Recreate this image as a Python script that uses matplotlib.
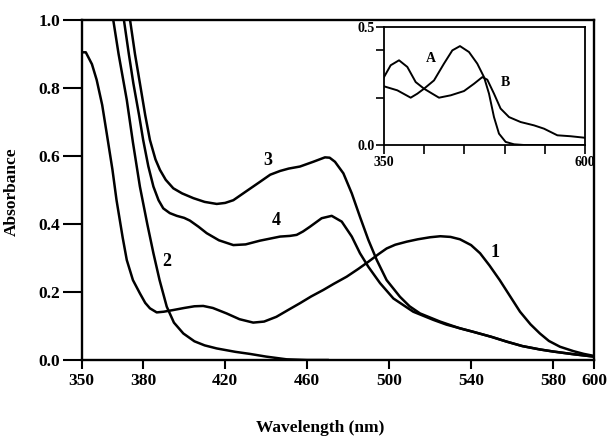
import matplotlib
matplotlib.use("Agg")
import matplotlib.pyplot as plt

# ---------------- data (main panel) ----------------
wl_1 = [350, 352, 355, 357.3, 360, 362.2, 365, 367, 370, 372, 375, 378.4, 381, 383.3,
        386.6, 390, 394.7, 400, 405, 409.3, 414, 420.7, 427, 433.7, 439, 445, 451,
        456.5, 462, 467.9, 473, 479.3, 485, 489.9, 495, 498.8, 503, 508.6, 514, 520,
        525, 530, 534.6, 540, 544.4, 549, 554, 559, 563.9, 569, 573.6, 578, 583.4,
        590, 595, 600]
abs_1 = [0.905, 0.905, 0.87, 0.824, 0.75, 0.667, 0.56, 0.47, 0.36, 0.294, 0.235, 0.196,
         0.168, 0.152, 0.140, 0.142, 0.147, 0.153, 0.158, 0.159, 0.153, 0.137, 0.12,
         0.110, 0.113, 0.127, 0.148, 0.167, 0.187, 0.206, 0.224, 0.245, 0.268, 0.289,
         0.312, 0.328, 0.339, 0.348, 0.355, 0.361, 0.364, 0.362, 0.355, 0.338, 0.314,
         0.278, 0.235, 0.188, 0.142, 0.105, 0.078, 0.056, 0.039, 0.026, 0.018, 0.012]

wl_2 = [365.4, 368, 372, 375, 378.4, 382, 385, 388, 391.5, 395, 399.6, 405, 410,
        415.9, 425, 432, 440, 450, 460, 470]
abs_2 = [1.0, 0.90, 0.765, 0.64, 0.51, 0.40, 0.314, 0.235, 0.157, 0.11, 0.078, 0.055,
         0.043, 0.034, 0.024, 0.018, 0.010, 0.002, 0.0, 0.0]

wl_3 = [373.6, 376, 378.4, 381, 383.3, 386, 388.2, 391, 394.7, 399, 404.5, 410, 415.9,
        420, 424, 430, 437, 442, 446.8, 451, 456.5, 463, 468.7, 471, 473.6, 477.7,
        481.8, 485.8, 489.9, 494, 498.8, 505.3, 510, 515.1, 524.9, 534.6, 541, 550,
        557.4, 565, 573.6, 580, 590, 600]
abs_3 = [1.0, 0.90, 0.814, 0.72, 0.647, 0.59, 0.559, 0.530, 0.505, 0.49, 0.476, 0.465,
         0.459, 0.462, 0.47, 0.495, 0.524, 0.545, 0.556, 0.563, 0.569, 0.583, 0.596,
         0.595, 0.583, 0.549, 0.490, 0.421, 0.353, 0.294, 0.235, 0.186, 0.158, 0.137,
         0.113, 0.093, 0.083, 0.068, 0.054, 0.041, 0.031, 0.025, 0.017, 0.010]

wl_4 = [370.6, 373, 375.2, 378, 380, 382.5, 385, 387.5, 389.8, 393, 396.4, 400, 402.8,
        407, 411, 417, 424, 430, 437, 446.8, 451.6, 454.9, 458, 461.4, 467.1, 472,
        476.9, 481.8, 485.8, 489.9, 495.6, 502.1, 511.8, 521.6, 528, 541, 550, 557.4,
        565, 573.6, 580, 590, 600]
abs_4 = [1.0, 0.90, 0.814, 0.72, 0.647, 0.57, 0.51, 0.47, 0.446, 0.432, 0.424, 0.418,
         0.41, 0.392, 0.373, 0.352, 0.338, 0.340, 0.351, 0.363, 0.365, 0.368, 0.378,
         0.392, 0.417, 0.424, 0.407, 0.363, 0.314, 0.274, 0.226, 0.181, 0.142, 0.118,
         0.104, 0.083, 0.068, 0.054, 0.041, 0.031, 0.025, 0.017, 0.010]

curve_labels = ["1", "2", "3", "4"]
label_x = [551.7, 391.5, 441, 445]
label_y = [0.315, 0.289, 0.588, 0.41]

x_ticks = [350, 380, 420, 460, 500, 540, 580, 600]
y_ticks = [0.0, 0.2, 0.4, 0.6, 0.8, 1.0]

# ---------------- data (inset) ----------------
wl_A = [350, 358.3, 368.7, 379, 389.4, 399.8, 412.2, 424.6, 435, 444.5, 455.7, 466,
        474.4, 480.6, 486.8, 493, 501.3, 511.7, 524, 600]
abs_A = [0.287, 0.337, 0.358, 0.330, 0.266, 0.238, 0.273, 0.344, 0.400, 0.418, 0.393,
         0.344, 0.287, 0.217, 0.118, 0.048, 0.013, 0.003, 0.0, 0.0]

wl_B = [350, 366.6, 383.2, 391.5, 399.8, 410, 418.4, 433, 449.5, 462, 472.3, 478.5,
        486.8, 495, 505.5, 520, 536.6, 549, 565.6, 582.2, 598.8, 600]
abs_B = [0.248, 0.231, 0.200, 0.217, 0.238, 0.217, 0.200, 0.210, 0.228, 0.259, 0.287,
         0.276, 0.217, 0.154, 0.118, 0.097, 0.083, 0.069, 0.041, 0.037, 0.031, 0.030]

inset_labels = ["A", "B"]
inset_label_x = [408, 501.3]
inset_label_y = [0.365, 0.266]
inset_x_ticks = [350, 400, 450, 500, 550, 600]
inset_x_ticklabels = ["350", "", "", "", "", "600"]
inset_y_ticks = [0.0, 0.2, 0.4, 0.5]
inset_y_ticklabels = ["0.0", "", "", "0.5"]

# ---------------- figure ----------------
plt.rcParams['font.family'] = ['Liberation Serif', 'DejaVu Serif']
plt.rcParams['font.weight'] = 'bold'

W, H = 612, 443
fig = plt.figure(figsize=(W / 100, H / 100), dpi=100)

def box(l, r, t, b):
    return [l / W, 1 - b / H, (r - l) / W, (b - t) / H]

ax = fig.add_axes(box(81.7, 594, 20, 360))
lw = 1.8
for wl, ab in [(wl_1, abs_1), (wl_2, abs_2), (wl_3, abs_3), (wl_4, abs_4)]:
    ax.plot(wl, ab, color='black', lw=lw, solid_joinstyle='round', clip_on=True)

for t, x, y in zip(curve_labels, label_x, label_y):
    ax.text(x, y, t, fontsize=13, fontweight='bold', ha='center', va='center')

ax.set_xlim(350, 600)
ax.set_ylim(0, 1.0)
ax.set_xticks(x_ticks)
ax.set_yticks(y_ticks)
ax.set_xticklabels([str(v) for v in x_ticks])
ax.set_yticklabels([f"{v:.1f}" for v in y_ticks])
ax.tick_params(axis='x', direction='out', length=6.5, width=1.5, pad=3, labelsize=12.5)
ax.tick_params(axis='y', direction='out', length=14, width=1.5, pad=1.5, labelsize=12.5)
for lab in ax.get_xticklabels() + ax.get_yticklabels():
    lab.set_fontweight('bold')
for s in ax.spines.values():
    s.set_linewidth(1.7)

ax.set_xlabel("Wavelength (nm)", fontsize=12.5, fontweight='bold')
ax.set_ylabel("Absorbance", fontsize=12.5, fontweight='bold')
ax.xaxis.label.set_va('center')
ax.yaxis.label.set_va('center')
ax.xaxis.set_label_coords((319.7 - 81.7) / 512.3, -(428 - 360) / 340)
ax.yaxis.set_label_coords((12 - 81.7) / 512.3, (360 - 192) / 340)

# inset
ins = fig.add_axes(box(384, 585, 26.7, 145))
ins.plot(wl_A, abs_A, color='black', lw=1.4)
ins.plot(wl_B, abs_B, color='black', lw=1.4)
for t, x, y in zip(inset_labels, inset_label_x, inset_label_y):
    ins.text(x, y, t, fontsize=10, fontweight='bold', ha='center', va='center')
ins.set_xlim(350, 600)
ins.set_ylim(0, 0.5)
ins.set_xticks(inset_x_ticks)
ins.set_xticklabels(inset_x_ticklabels)
ins.set_yticks(inset_y_ticks)
ins.set_yticklabels(inset_y_ticklabels)
ins.tick_params(axis='x', direction='out', length=6.5, width=1.2, pad=1.5, labelsize=10)
ins.tick_params(axis='y', direction='out', length=6, width=1.2, pad=1, labelsize=10)
for lab in ins.get_xticklabels() + ins.get_yticklabels():
    lab.set_fontweight('bold')
for s in ins.spines.values():
    s.set_linewidth(1.3)

fig.savefig("out.png", dpi=100)
